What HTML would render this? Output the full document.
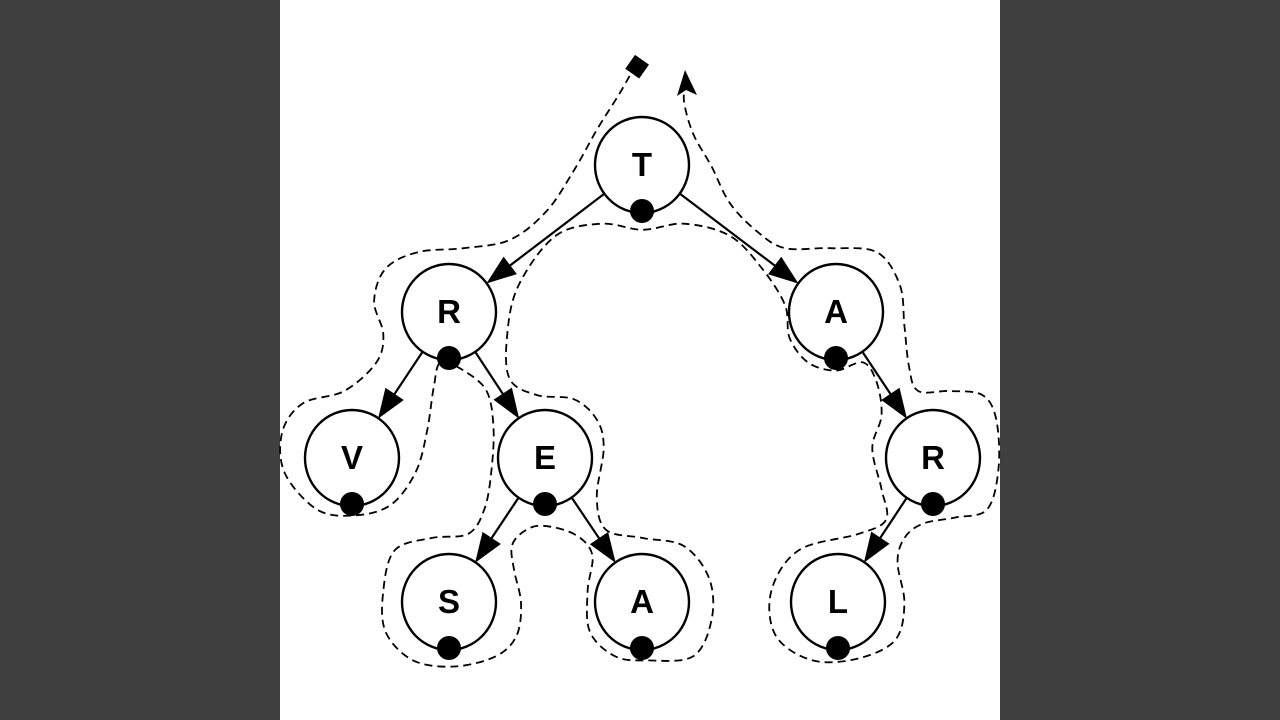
<!DOCTYPE html>
<html><head><meta charset="utf-8"><style>
html,body{margin:0;padding:0;background:#404040;}
svg{display:block}
</style></head><body>
<svg width="1280" height="720" viewBox="0 0 1280 720" xmlns="http://www.w3.org/2000/svg">
<rect x="0" y="0" width="1280" height="720" fill="#404040"/>
<rect x="280" y="0" width="720" height="720" fill="#fff"/>
<g id="edges" stroke="#000" stroke-width="2.2" fill="#000"></g>
<path id="tour" fill="none" stroke="#000" stroke-width="1.8" stroke-dasharray="8,5"/>
<rect x="629" y="58" width="17" height="17" fill="#000" transform="rotate(35 637 66)"/>
<polygon points="685,70 677,96 686,90 697,95" fill="#000"/>
<g id="nodes" font-family="Liberation Sans, sans-serif" font-weight="bold" font-size="33" text-anchor="middle"></g>
</svg>
<script>
const ns="http://www.w3.org/2000/svg";
const N={T:[642,165],R1:[449,312],A1:[836,312],V:[352,458],E:[545,458],R2:[933,458],S:[449,602],A2:[642,602],L:[838,602]};
const lab={T:"T",R1:"R",A1:"A",V:"V",E:"E",R2:"R",S:"S",A2:"A",L:"L"};
const r=47;
const eg=document.getElementById('edges');
[["T","R1"],["T","A1"],["R1","V"],["R1","E"],["E","S"],["E","A2"],["A1","R2"],["R2","L"]].forEach(([a,b])=>{
 const [x1,y1]=N[a],[x2,y2]=N[b];const dx=x2-x1,dy=y2-y1,d=Math.hypot(dx,dy),ux=dx/d,uy=dy/d;
 const sx=x1+ux*r,sy=y1+uy*r,ex=x2-ux*r,ey=y2-uy*r;
 const l=document.createElementNS(ns,'line');l.setAttribute('x1',sx);l.setAttribute('y1',sy);l.setAttribute('x2',ex-ux*20);l.setAttribute('y2',ey-uy*20);eg.appendChild(l);
 const bx=ex-ux*30,by=ey-uy*30,px=-uy*11,py=ux*11;
 const p=document.createElementNS(ns,'polygon');p.setAttribute('points',`${ex},${ey} ${bx+px},${by+py} ${bx-px},${by-py}`);p.setAttribute('stroke','none');eg.appendChild(p);
});
const ng=document.getElementById('nodes');
for(const k in N){const [x,y]=N[k];
 const c=document.createElementNS(ns,'ellipse');c.setAttribute('cx',x);c.setAttribute('cy',y);c.setAttribute('rx',r);c.setAttribute('ry',r+1);c.setAttribute('fill','#fff');c.setAttribute('stroke','#000');c.setAttribute('stroke-width','2.4');ng.appendChild(c);
 const d=document.createElementNS(ns,'circle');d.setAttribute('cx',x);d.setAttribute('cy',y+r-1);d.setAttribute('r',12);d.setAttribute('fill','#000');ng.appendChild(d);
 const t=document.createElementNS(ns,'text');t.setAttribute('x',x);t.setAttribute('y',y+11);t.textContent=lab[k];ng.appendChild(t);}
const Z=[[775,60],[740,130],[690,220],[640,320],[580,420],[500,490],[400,510],[300,520],[230,560],[205,640],[225,720],[210,790],[140,860],[50,890],[5,960],[10,1060],[80,1150],[160,1165],[240,1140],[295,1060],[320,960],[335,850],[350,790],[400,810],[450,860],[465,950],[460,1060],[445,1150],[410,1210],[330,1220],[250,1250],[225,1350],[230,1450],[290,1520],[380,1535],[470,1510],[515,1460],[525,1380],[510,1300],[505,1240],[530,1205],[570,1190],[640,1210],[680,1260],[670,1350],[675,1450],[730,1510],[800,1520],[900,1510],[940,1420],[935,1320],[880,1240],[790,1220],[710,1200],[690,1120],[705,1000],[690,930],[640,880],[560,870],[500,830],[495,720],[520,600],[600,480],[700,450],[790,465],[880,450],[980,480],[1050,560],[1100,650],[1110,730],[1150,790],[1210,810],[1270,790],[1300,840],[1310,920],[1290,1000],[1310,1100],[1320,1175],[1260,1210],[1130,1250],[1070,1350],[1080,1460],[1160,1520],[1260,1515],[1340,1470],[1360,1380],[1345,1280],[1360,1220],[1400,1185],[1470,1170],[1540,1150],[1565,1050],[1560,930],[1530,870],[1460,860],[1390,860],[1370,800],[1360,700],[1350,600],[1300,520],[1200,510],[1100,510],[1040,470],[980,400],[940,310],[900,230],[880,150],[885,100]];
const P=Z.map(([x,y])=>[280+x/2.178,40+y/2.45]);
let d=`M${P[0][0]},${P[0][1]}`;
for(let i=0;i<P.length-1;i++){const p0=P[Math.max(0,i-1)],p1=P[i],p2=P[i+1],p3=P[Math.min(P.length-1,i+2)];
 const c1=[p1[0]+(p2[0]-p0[0])/6,p1[1]+(p2[1]-p0[1])/6],c2=[p2[0]-(p3[0]-p1[0])/6,p2[1]-(p3[1]-p1[1])/6];
 d+=` C${c1[0].toFixed(1)},${c1[1].toFixed(1)} ${c2[0].toFixed(1)},${c2[1].toFixed(1)} ${p2[0].toFixed(1)},${p2[1].toFixed(1)}`;}
document.getElementById('tour').setAttribute('d',d);
</script>
</body></html>
